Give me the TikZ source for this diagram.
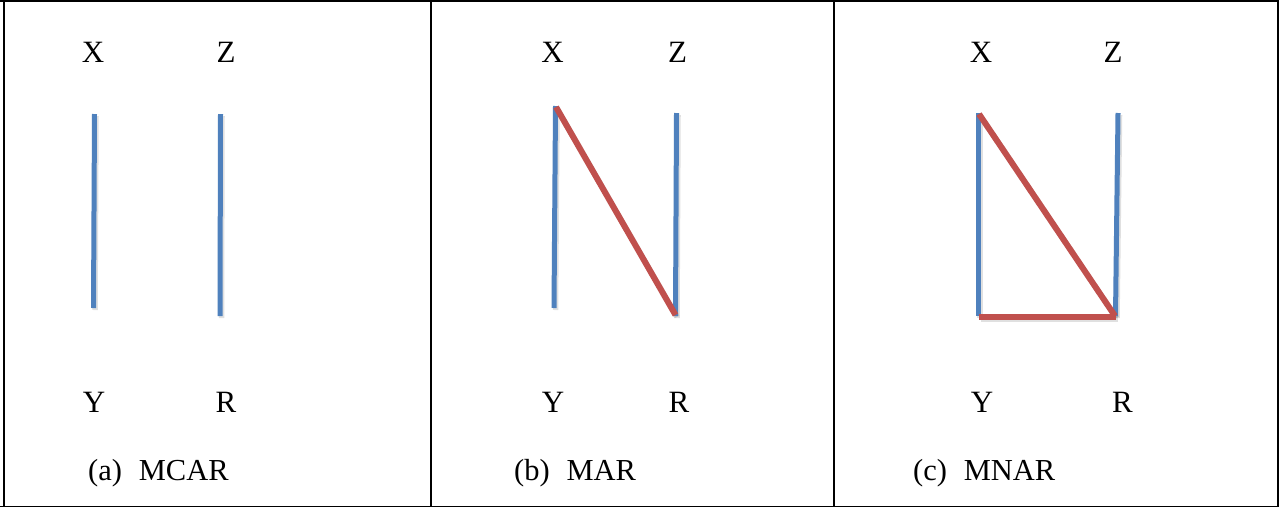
\documentclass[tikz,border=0pt]{standalone}
\usepackage{fontspec}
\setmainfont{Liberation Serif}
\definecolor{eblue}{HTML}{4F81BD}
\definecolor{ered}{HTML}{C0504D}
\begin{document}
\begin{tikzpicture}[x=1pt,y=-1pt,
  lbl/.style={anchor=base,inner sep=0pt,font=\fontsize{31}{36}\selectfont},
  captxt/.style={anchor=base west,inner sep=0pt,font=\fontsize{30.5}{36}\selectfont},
  frame/.style={draw=black,line width=2pt},
  shadowline/.style={draw=black,opacity=0.12,line width=5.5pt},
  bedge/.style={draw=eblue,line width=5pt},
  redge/.style={draw=ered,line width=6pt}]
\useasboundingbox (0,0) rectangle (1279,507);
\fill[white] (0,0) rectangle (1279,507);
% frame
\draw[frame] (0,1) -- (1279,1);
\draw[frame] (3.5,0) -- (3.5,507);
\draw[frame] (431,0) -- (431,507);
\draw[frame] (834,0) -- (834,507);
\draw[draw=black,line width=1.2pt] (0,506.2) -- (1279,506.2);
\draw[frame] (1278,0) -- (1278,507);
% panel a
\node[lbl] (xa) at (93,62) {X};
\node[lbl] (za) at (226,62) {Z};
\node[lbl] (ya) at (94,412) {Y};
\node[lbl] (ra) at (226,412) {R};
\node[captxt] (ca) at (88,480) {(a)\hspace{0.55em}MCAR};
\coordinate (a1t) at (94.5,114); \coordinate (a1b) at (93.5,308);
\coordinate (a2t) at (220.5,114); \coordinate (a2b) at (220,316);
\draw[shadowline] ([shift={(1.5,2)}]a1t) -- ([shift={(1.5,2)}]a1b);
\draw[shadowline] ([shift={(1.5,2)}]a2t) -- ([shift={(1.5,2)}]a2b);
\draw[bedge] (a1t) -- (a1b);
\draw[bedge] (a2t) -- (a2b);
% panel b
\node[lbl] (xb) at (552.5,62) {X};
\node[lbl] (zb) at (677.5,62) {Z};
\node[lbl] (yb) at (553,412) {Y};
\node[lbl] (rb) at (679,412) {R};
\node[captxt] (cb) at (514,480) {(b)\hspace{0.55em}MAR};
\coordinate (b1t) at (555.5,106); \coordinate (b1b) at (554,308);
\coordinate (b2t) at (676.5,113); \coordinate (b2b) at (675.5,316);
\coordinate (bdt) at (556,107); \coordinate (bdb) at (675.5,315);
\draw[shadowline] ([shift={(1.5,2)}]b1t) -- ([shift={(1.5,2)}]b1b);
\draw[shadowline] ([shift={(1.5,2)}]b2t) -- ([shift={(1.5,2)}]b2b);
\draw[shadowline] ([shift={(1.5,2)}]bdt) -- ([shift={(1.5,2)}]bdb);
\draw[bedge] (b1t) -- (b1b);
\draw[bedge] (b2t) -- (b2b);
\draw[redge] (bdt) -- (bdb);
% panel c
\node[lbl] (xc) at (981,62) {X};
\node[lbl] (zc) at (1113,62) {Z};
\node[lbl] (yc) at (982,412) {Y};
\node[lbl] (rc) at (1122.5,412) {R};
\node[captxt] (cc) at (913,480) {(c)\hspace{0.55em}MNAR};
\coordinate (c1t) at (978.5,113); \coordinate (c1b) at (978.5,316);
\coordinate (c2t) at (1118,113); \coordinate (c2b) at (1115.5,316);
\coordinate (cdt) at (979,114); \coordinate (cdb) at (1115,316);
\coordinate (chl) at (979,316.5); \coordinate (chr) at (1116,316.5);
\draw[shadowline] ([shift={(1.5,2)}]c1t) -- ([shift={(1.5,2)}]c1b);
\draw[shadowline] ([shift={(1.5,2)}]c2t) -- ([shift={(1.5,2)}]c2b);
\draw[shadowline] ([shift={(1.5,2)}]cdt) -- ([shift={(1.5,2)}]cdb);
\draw[shadowline] ([shift={(1.5,2.5)}]chl) -- ([shift={(1.5,2.5)}]chr);
\draw[bedge] (c1t) -- (c1b);
\draw[bedge] (c2t) -- (c2b);
\draw[redge] (cdt) -- (cdb);
\draw[redge] (chl) -- (chr);
\end{tikzpicture}
\end{document}
